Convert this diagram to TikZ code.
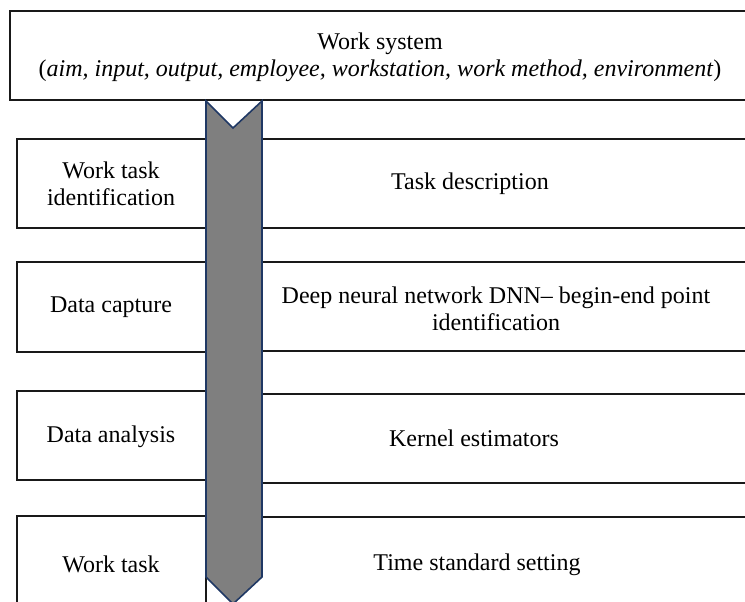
\documentclass[tikz,border=0pt]{standalone}
\usepackage{fontspec}
\setmainfont{Liberation Serif}
\definecolor{arrowedge}{HTML}{1F3864}
\definecolor{arrowfill}{HTML}{7F7F7F}
\begin{document}
\begin{tikzpicture}[x=1pt,y=-1pt,
  boxline/.style={draw=black!90, line width=1.3pt},
  lbl/.style={font=\fontsize{24}{27}\selectfont, align=center, inner sep=0pt, text=black},
  flowarrow/.style={draw=arrowedge, fill=arrowfill, line width=1.6pt, line join=miter}]
\useasboundingbox (0,0) rectangle (745,602);
\clip (0,0) rectangle (745,602);
% top box
\draw[boxline] (10,11) rectangle (770,100);
\node[lbl] (ws) at (380,57) {Work system\\(\textit{aim, input, output, employee, workstation, work method, environment})};
% left boxes
\draw[boxline] (17,139) rectangle (206,228);
\draw[boxline] (17,262) rectangle (206,352);
\draw[boxline] (17,391) rectangle (206,480);
\draw[boxline] (17,516) rectangle (206,640);
% right boxes
\draw[boxline] (262,139) rectangle (770,228);
\draw[boxline] (262,262) rectangle (770,351);
\draw[boxline] (262,394) rectangle (770,483);
\draw[boxline] (233,517) rectangle (770,640);
% left labels
\node[lbl] (l1) at (111,184) {Work task\\identification};
\node[lbl] (l2) at (111,307) {Data capture};
\node[lbl] (l3) at (111,437) {Data analysis};
\node[lbl] (l4) at (111,564) {Work task};
% right labels
\node[lbl] (r1) at (470,184) {Task description};
\node[lbl] (r2) at (496,309) {Deep neural network DNN– begin-end point\\identification};
\node[lbl] (r3) at (474,438) {Kernel estimators};
\node[lbl] (r4) at (477,565) {Time standard setting};
% process arrow
\draw[flowarrow] (206,101) -- (233,128) -- (262,101) -- (262,577) -- (233,604) -- (206,577) -- cycle;
\end{tikzpicture}
\end{document}
